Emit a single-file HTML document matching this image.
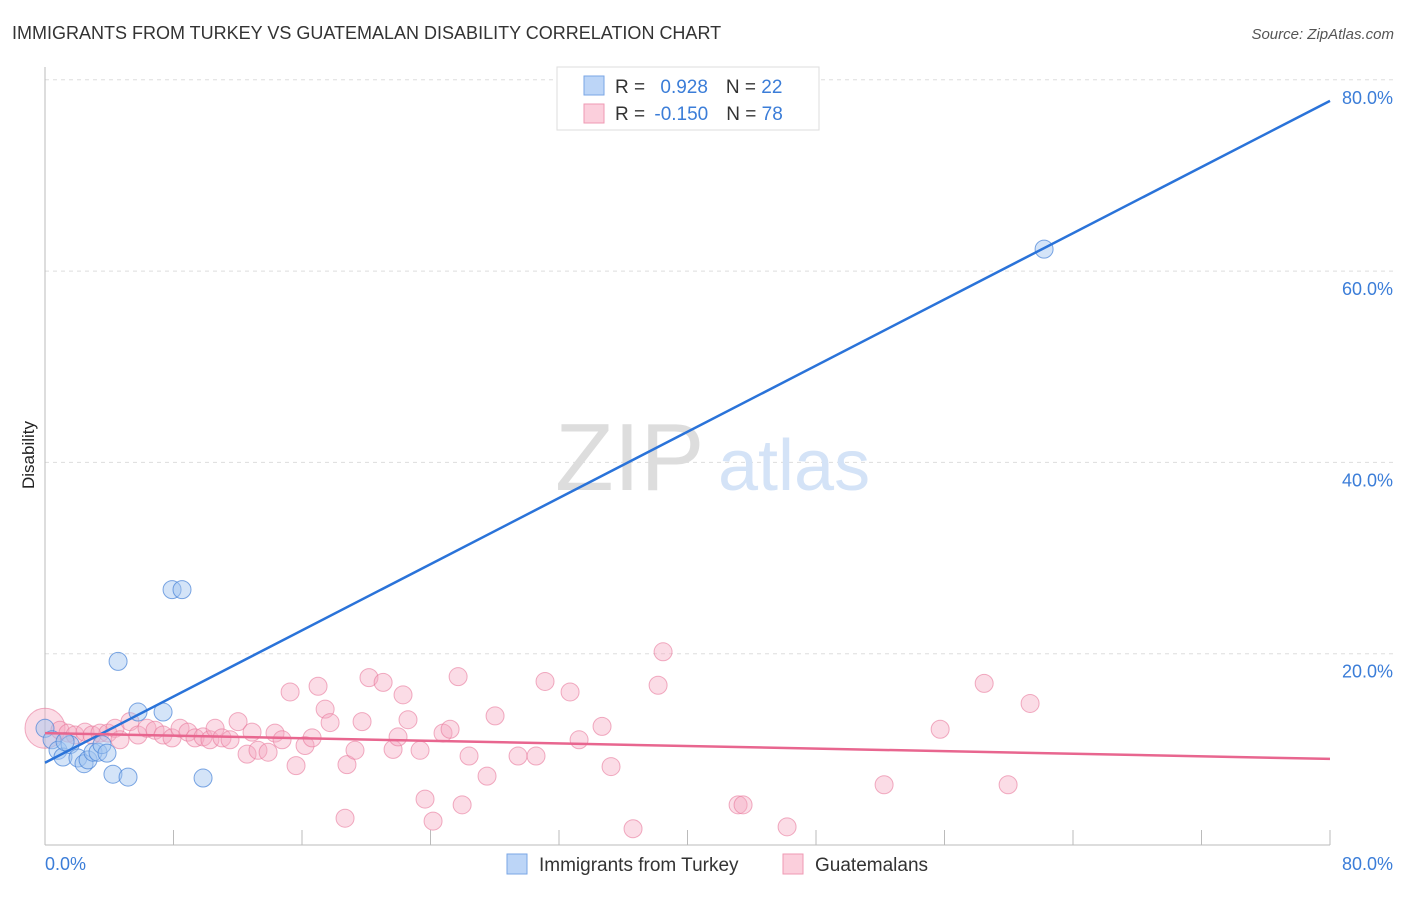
<!DOCTYPE html>
<html><head><meta charset="utf-8"><style>
body{margin:0;background:#fff;font-family:"Liberation Sans",sans-serif;}
svg text{font-family:"Liberation Sans",sans-serif;}
</style></head><body>
<svg width="1406" height="892" viewBox="0 0 1406 892">
<text x="12" y="39" font-size="18" fill="#333">IMMIGRANTS FROM TURKEY VS GUATEMALAN DISABILITY CORRELATION CHART</text>
<text x="1394" y="39" font-size="15" fill="#555" font-style="italic" text-anchor="end">Source: ZipAtlas.com</text>
<g id="grid"></g>
<g id="ticks"></g>
<line x1="45" y1="67" x2="45" y2="845" stroke="#bbb"/>
<line x1="45" y1="845" x2="1330" y2="845" stroke="#bbb"/>
<g id="xt"></g>
<text x="45" y="870" font-size="18" fill="#3b7dd8">0.0%</text>
<text x="1393" y="870" font-size="18" fill="#3b7dd8" text-anchor="end">80.0%</text>
<text transform="translate(34,455) rotate(-90)" font-size="17" fill="#222" text-anchor="middle">Disability</text>
<g><text x="555" y="490" font-size="96" fill="#ddd" font-family="Liberation Serif,serif">ZIP</text><text x="718" y="490" font-size="72" fill="#d4e3f7">atlas</text></g>
<g id="pink"></g>
<g id="blue"></g>
<g id="lines"></g>
<g>
<rect x="557" y="67" width="262" height="63" fill="#fff" stroke="#ddd"/>
<rect x="584" y="76" width="20" height="19" fill="#bcd5f7" stroke="#7aa6e6"/>
<rect x="584" y="104" width="20" height="19" fill="#fbcfdc" stroke="#ef9ab3"/>
<text x="615" y="93" font-size="19" fill="#333">R = <tspan fill="#3b7dd8" dx="10">0.928</tspan><tspan dx="18">N = </tspan><tspan fill="#3b7dd8">22</tspan></text>
<text x="615" y="120" font-size="19" fill="#333">R = <tspan fill="#3b7dd8" dx="4">-0.150</tspan><tspan dx="18">N = </tspan><tspan fill="#3b7dd8">78</tspan></text>
</g>
<g>
<rect x="507" y="854" width="20" height="20" fill="#bcd5f7" stroke="#7aa6e6"/>
<text x="539" y="871" font-size="19" fill="#333">Immigrants from Turkey</text>
<rect x="783" y="854" width="20" height="20" fill="#fbcfdc" stroke="#ef9ab3"/>
<text x="815" y="871" font-size="19" fill="#333">Guatemalans</text>
</g>
</svg>
<script>
const yTicks=[20,40,60,80];
const yTickLabels=["20.0%","40.0%","60.0%","80.0%"];
const blueX=[0,0.44,0.81,1.12,1.56,1.25,2.05,2.43,2.68,2.99,3.3,3.55,3.86,4.23,5.17,4.55,5.79,7.35,7.91,8.53,9.84,62.2];
const blueY=[12.2,11.0,9.9,9.2,10.5,10.8,9.1,8.5,8.9,9.7,9.7,10.5,9.6,7.4,7.1,19.2,13.9,13.9,26.7,26.7,7.0,62.3];
const pinkX=[0,0.93,1.43,1.87,2.49,2.93,3.42,3.92,4.36,4.67,5.29,5.79,6.35,6.85,7.35,7.91,8.41,8.9,9.34,9.84,10.27,10.59,11.02,11.52,12.02,12.58,12.89,13.26,13.89,14.32,14.76,15.26,15.63,16.19,16.63,17.0,17.44,17.75,18.68,18.8,19.3,19.74,20.17,21.05,21.67,21.98,22.29,22.6,23.35,23.66,24.16,24.78,25.22,25.72,25.97,26.4,27.52,28.02,29.45,30.57,31.13,32.69,33.25,34.68,35.24,36.61,38.17,38.48,43.15,43.46,46.2,52.24,55.73,58.47,59.96,61.33];
const pinkY=[12.2,12.0,11.7,11.5,11.8,11.5,11.7,11.7,12.2,11.0,12.9,11.5,12.2,12.0,11.5,11.2,12.2,11.8,11.2,11.3,11.0,12.2,11.2,11.0,12.9,9.5,11.8,9.9,9.7,11.7,11.0,16.0,8.3,10.4,11.2,16.6,14.2,12.8,2.8,8.4,9.9,12.9,17.5,17.0,10.0,11.3,15.7,13.1,9.9,4.8,2.5,11.7,12.1,17.6,4.2,9.3,7.2,13.5,9.3,9.3,17.1,16.0,11.0,12.4,8.2,1.7,16.7,20.2,4.2,4.2,1.9,6.3,12.1,16.9,6.3,14.8];
const blueTrend=[8.6,77.8];
const pinkTrend=[11.7,9.0];
const xs=v=>45+v*1285/80, ys=v=>845-v*9.565;
const NS="http://www.w3.org/2000/svg";
function mk(t,a,p){const e=document.createElementNS(NS,t);for(const k in a)e.setAttribute(k,a[k]);p.appendChild(e);return e;}
const grid=document.getElementById('grid'),tk=document.getElementById('ticks');
yTicks.forEach((v,i)=>{
 const l=mk('line',{x1:45,x2:1393,y1:ys(v),y2:ys(v),stroke:'#ddd','stroke-dasharray':'4,4'},grid);
 
 
 const t=mk('text',{x:1393,y:ys(v)+24,'font-size':18,fill:'#3b7dd8','text-anchor':'end'},tk);
 t.textContent=yTickLabels[i];
 
 
});
const xt=document.getElementById('xt');
for(let i=0;i<=10;i++){const l=mk('line',{x1:xs(i*8),x2:xs(i*8),y1:830,y2:845,stroke:'#bbb'},xt);
 
 }
const pg=document.getElementById('pink');
pinkX.forEach((x,i)=>{const c=mk('circle',{cx:xs(x),cy:ys(pinkY[i]),r:i===0?20:9,fill:'rgba(246,168,192,0.4)',stroke:'rgba(232,120,155,0.6)','stroke-width':1},pg);
 
 });
const bg=document.getElementById('blue');
blueX.forEach((x,i)=>{const c=mk('circle',{cx:xs(x),cy:ys(blueY[i]),r:9,fill:'rgba(160,196,240,0.45)',stroke:'rgba(70,130,215,0.7)','stroke-width':1},bg);
 
 });
const lg=document.getElementById('lines');
const bl=mk('line',{x1:xs(0),y1:ys(blueTrend[0]),x2:xs(80),y2:ys(blueTrend[1]),stroke:'#2a73d9','stroke-width':2.5},lg);


const pl=mk('line',{x1:xs(0),y1:ys(pinkTrend[0]),x2:xs(80),y2:ys(pinkTrend[1]),stroke:'#e8668f','stroke-width':2.5},lg);


</script>
</body></html>
